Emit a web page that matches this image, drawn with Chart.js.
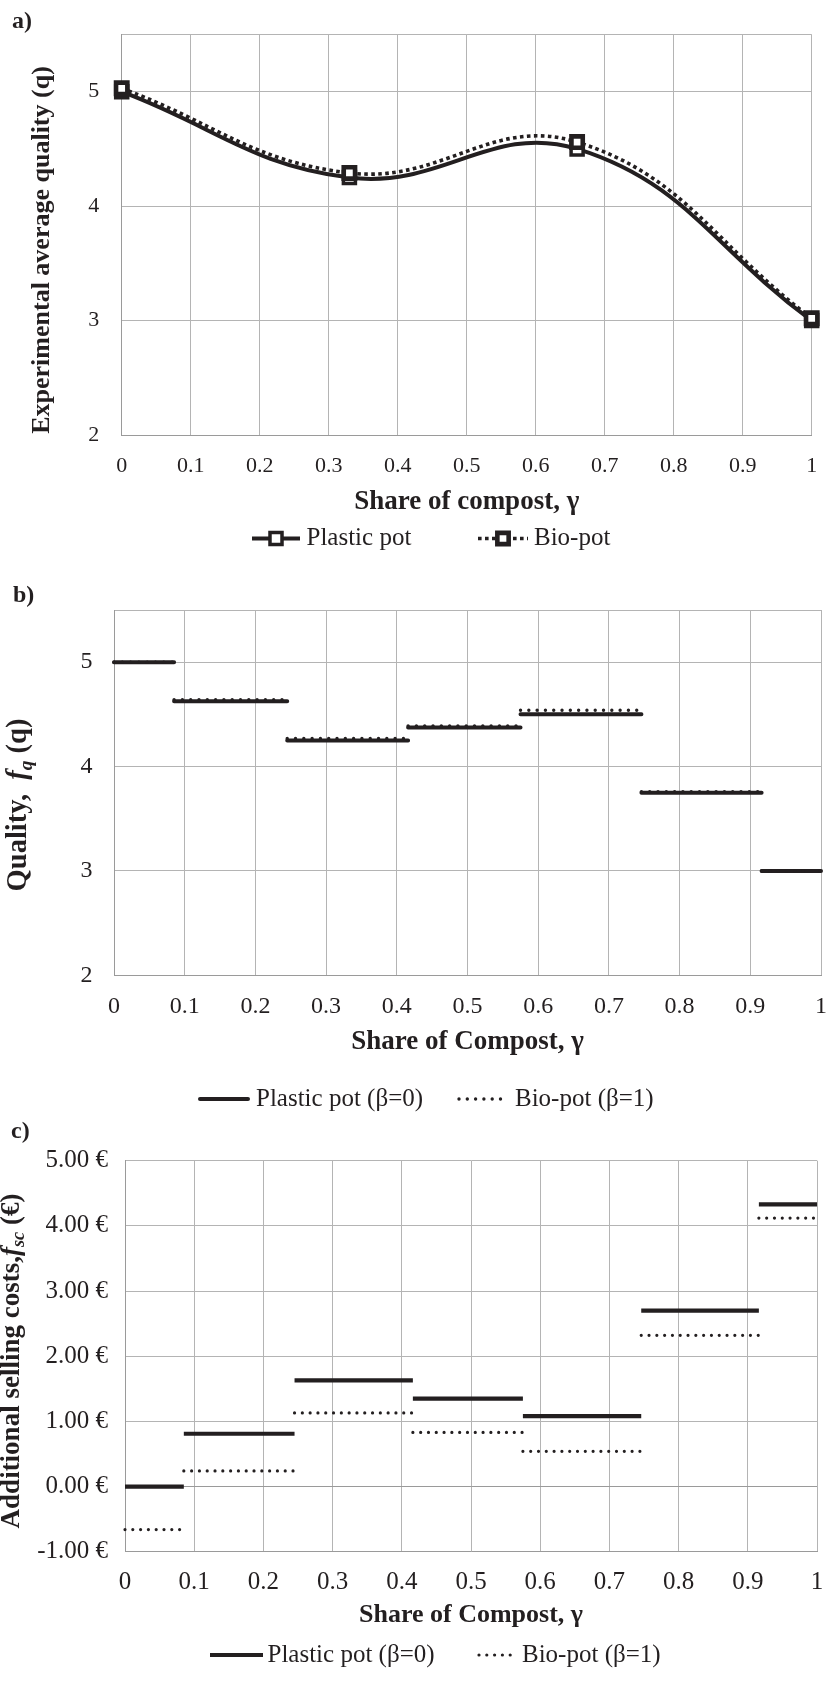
<!DOCTYPE html>
<html>
<head>
<meta charset="utf-8">
<title>Compost share: quality and selling costs</title>
<script src="https://cdn.jsdelivr.net/npm/chart.js@4.4.1/dist/chart.umd.min.js"></script>
<style>
  html, body { margin: 0; padding: 0; background: #fff; }
  body { position: relative; width: 828px; height: 1686px; overflow: hidden; }
  canvas { position: absolute; left: 0; }
</style>
</head>
<body>
<canvas id="chartA" width="828" height="560" style="top:0px"></canvas>
<canvas id="chartB" width="828" height="560" style="top:560px"></canvas>
<canvas id="chartC" width="828" height="576" style="top:1110px"></canvas>
<script>
// ---- data -------------------------------------------------------------
// a) experimental average quality at the tested compost shares
const shareTested = [0, 0.33, 0.66, 1];
const qualityPlastic = [5.0, 4.25, 4.5, 3.0];
const qualityBio = [5.03, 4.29, 4.56, 3.02];

// b), c) piecewise-constant functions over compost-share intervals
const stepBreaks = [0, 0.085, 0.245, 0.416, 0.575, 0.746, 0.916, 1];
const fqPlastic = [5, 4.625, 4.25, 4.375, 4.5, 3.75, 3];
const fqBio = [5, 4.64, 4.27, 4.39, 4.54, 3.76, 3];
const fscPlastic = [0, 0.81, 1.63, 1.35, 1.08, 2.70, 4.33];
const fscBio = [-0.66, 0.24, 1.13, 0.83, 0.54, 2.32, 4.12];

// axis ticks
const shareTicks = [0, 0.1, 0.2, 0.3, 0.4, 0.5, 0.6, 0.7, 0.8, 0.9, 1];
const qualityTicks = [2, 3, 4, 5];
const costTicks = [-1, 0, 1, 2, 3, 4, 5];

// ---- styling ----------------------------------------------------------
const FONT = "'Liberation Serif', 'Times New Roman', Times, serif";
const INK = '#231f20';
const GRID = '#b4b4b4';
const AXIS = '#9a9a9a';

Chart.defaults.font.family = FONT;
Chart.defaults.color = INK;

// horizontal segments, separated by gaps so no risers are drawn
function stepPoints(breaks, values) {
  const pts = [];
  values.forEach((v, i) => {
    pts.push({ x: breaks[i], y: v }, { x: breaks[i + 1], y: v });
    if (i < values.length - 1) pts.push({ x: breaks[i + 1], y: null });
  });
  return pts;
}

// rotated axis title built from plain / italic / subscript runs
function drawRich(ctx, t) {
  const s = t.size;
  const parts = t.parts.map(p => {
    const size = p.sub ? s * 0.68 : s;
    const font = `${p.italic ? 'italic ' : ''}bold ${size}px ${FONT}`;
    ctx.font = font;
    return { text: p.text, font, w: ctx.measureText(p.text).width, dy: p.sub ? s * 0.28 : 0 };
  });
  const total = parts.reduce((a, p) => a + p.w, 0);
  ctx.save();
  ctx.translate(t.x, t.y);
  ctx.rotate(-Math.PI / 2);
  ctx.fillStyle = INK;
  ctx.textBaseline = 'middle';
  ctx.textAlign = 'left';
  let x = -total / 2;
  parts.forEach(p => {
    ctx.font = p.font;
    ctx.fillText(p.text, x, p.dy);
    x += p.w;
  });
  ctx.restore();
}

// panel letter, rotated y-axis title and the legend row
const decorations = {
  id: 'decorations',
  afterDraw(chart, args, opts) {
    const ctx = chart.ctx;
    ctx.save();
    ctx.fillStyle = INK;
    ctx.textBaseline = 'middle';
    ctx.textAlign = 'left';
    ctx.font = `bold ${opts.panel.size}px ${FONT}`;
    ctx.fillText(opts.panel.text, opts.panel.x, opts.panel.y);

    drawRich(ctx, opts.yTitle);

    const lg = opts.legend;
    lg.items.forEach(it => {
      const ds = chart.data.datasets[it.dataset];
      ctx.save();
      ctx.strokeStyle = ds.borderColor;
      ctx.lineWidth = ds.borderWidth;
      ctx.lineCap = ds.borderCapStyle || 'butt';
      ctx.setLineDash(ds.borderDash || []);
      ctx.beginPath();
      ctx.moveTo(it.x0, lg.y);
      ctx.lineTo(it.x1, lg.y);
      ctx.stroke();
      ctx.restore();
      if (it.marker !== undefined) {
        ctx.save();
        ctx.setLineDash([]);
        ctx.lineWidth = ds.pointBorderWidth;
        ctx.strokeStyle = ds.pointBorderColor;
        ctx.fillStyle = ds.pointBackgroundColor;
        Chart.helpers.drawPoint(ctx, { pointStyle: 'rect', radius: ds.pointRadius, borderWidth: ds.pointBorderWidth, rotation: 0 }, it.marker, lg.y);
        ctx.restore();
      }
      ctx.fillStyle = INK;
      ctx.font = `${lg.size}px ${FONT}`;
      ctx.textBaseline = 'middle';
      ctx.fillText(ds.label, it.textX, lg.y);
    });
    ctx.restore();
  }
};

// fixed-size axes: the plot area is set by layout padding and these sizes,
// without extra room reserved for overhanging edge labels
function shareAxis(o) {
  return {
    type: 'linear', min: 0, max: 1,
    afterBuildTicks: s => { s.ticks = shareTicks.map(v => ({ value: v })); },
    afterFit: s => { s.height = o.height; s.paddingLeft = 0; s.paddingRight = 0; },
    ticks: { autoSkip: false, maxRotation: 0, padding: o.pad, color: INK, font: { size: o.tick }, callback: v => String(v) },
    grid: { color: GRID, lineWidth: 1, drawTicks: false },
    border: { color: AXIS, width: 1 },
    title: { display: true, text: o.title, color: INK, font: { size: o.titleSize, weight: 'bold' }, padding: { top: 0, bottom: o.titlePad } }
  };
}

function valueAxis(o) {
  return {
    type: 'linear', min: o.min, max: o.max,
    afterBuildTicks: s => { s.ticks = o.ticks.concat(o.ticks.includes(o.max) ? [] : [o.max]).map(v => ({ value: v })); },
    afterFit: s => { s.width = o.width; s.paddingTop = 0; s.paddingBottom = 0; },
    ticks: { padding: o.pad, color: INK, font: { size: o.tick }, callback: v => (o.ticks.includes(v) ? o.format(v) : '') },
    grid: { color: o.gridColor || GRID, lineWidth: 1, drawTicks: false },
    border: { color: AXIS, width: 1 }
  };
}

const common = {
  responsive: false, animation: false, devicePixelRatio: 1,
  events: []
};

// ---- a) experimental average quality ---------------------------------
new Chart(document.getElementById('chartA'), {
  type: 'line',
  data: {
    datasets: [
      {
        label: 'Plastic pot',
        data: shareTested.map((x, i) => ({ x, y: qualityPlastic[i] })),
        borderColor: INK, borderWidth: 4, tension: 0.42,
        pointStyle: 'rect', pointRadius: 8.5, pointBorderWidth: 3.5,
        pointBackgroundColor: '#fff', pointBorderColor: INK,
        clip: false, order: 2
      },
      {
        label: 'Bio-pot',
        data: shareTested.map((x, i) => ({ x, y: qualityBio[i] })),
        borderColor: INK, borderWidth: 3.6, borderDash: [3.6, 3.4], tension: 0.42,
        pointStyle: 'rect', pointRadius: 8, pointBorderWidth: 4.6,
        pointBackgroundColor: '#fff', pointBorderColor: INK,
        clip: false, order: 1
      }
    ]
  },
  options: Object.assign({}, common, {
    layout: { padding: { left: 0, top: 34.5, right: 16.3, bottom: 0 } },
    plugins: {
      legend: { display: false }, tooltip: { enabled: false },
      decorations: {
        panel: { text: 'a)', x: 12, y: 21.5, size: 24 },
        yTitle: { x: 42, y: 250, size: 26, parts: [{ text: 'Experimental average quality (q)' }] },
        legend: { y: 538.5, size: 25, items: [
          { dataset: 0, x0: 252, x1: 300, marker: 276, textX: 306.5 },
          { dataset: 1, x0: 478, x1: 528, marker: 503, textX: 534 }
        ] }
      }
    },
    scales: {
      x: shareAxis({ height: 125, pad: 17.8, tick: 22, title: 'Share of compost, γ', titleSize: 27, titlePad: 42 }),
      y: valueAxis({ min: 2, max: 5.5, ticks: qualityTicks, width: 121.7, pad: 22.5, tick: 22, format: v => String(v) })
    }
  }),
  plugins: [decorations]
});

// ---- b) quality function ----------------------------------------------
new Chart(document.getElementById('chartB'), {
  type: 'line',
  data: {
    datasets: [
      {
        label: 'Plastic pot (β=0)',
        data: stepPoints(stepBreaks, fqPlastic),
        borderColor: INK, borderWidth: 4, borderCapStyle: 'round',
        pointRadius: 0, spanGaps: false, clip: false, order: 2
      },
      {
        label: 'Bio-pot (β=1)',
        data: stepPoints(stepBreaks, fqBio),
        borderColor: INK, borderWidth: 3.4, borderDash: [0, 8.3], borderCapStyle: 'round',
        pointRadius: 0, spanGaps: false, clip: false, order: 1
      }
    ]
  },
  options: Object.assign({}, common, {
    layout: { padding: { left: 0, top: 50, right: 7, bottom: 0 } },
    plugins: {
      legend: { display: false }, tooltip: { enabled: false },
      decorations: {
        panel: { text: 'b)', x: 13, y: 35.5, size: 24 },
        yTitle: { x: 19, y: 245, size: 28.5, parts: [
          { text: 'Quality,  ' }, { text: 'f', italic: true }, { text: 'q', italic: true, sub: true }, { text: ' (q)' }
        ] },
        legend: { y: 539, size: 25, items: [
          { dataset: 0, x0: 200, x1: 248, textX: 256 },
          { dataset: 1, x0: 459, x1: 504, textX: 515 }
        ] }
      }
    },
    scales: {
      x: shareAxis({ height: 144.7, pad: 16.7, tick: 24, title: 'Share of Compost, γ', titleSize: 27, titlePad: 61.8 }),
      y: valueAxis({ min: 2, max: 5.5, ticks: qualityTicks, width: 114, pad: 21.6, tick: 24, format: v => String(v) })
    }
  }),
  plugins: [decorations]
});

// ---- c) additional selling costs --------------------------------------
new Chart(document.getElementById('chartC'), {
  type: 'line',
  data: {
    datasets: [
      {
        label: 'Plastic pot (β=0)',
        data: stepPoints(stepBreaks, fscPlastic),
        borderColor: INK, borderWidth: 4.2, borderCapStyle: 'butt',
        pointRadius: 0, spanGaps: false, clip: false, order: 2
      },
      {
        label: 'Bio-pot (β=1)',
        data: stepPoints(stepBreaks, fscBio),
        borderColor: INK, borderWidth: 3.2, borderDash: [0, 7.8], borderCapStyle: 'round',
        pointRadius: 0, spanGaps: false, clip: false, order: 1
      }
    ]
  },
  options: Object.assign({}, common, {
    layout: { padding: { left: 0, top: 50.7, right: 11, bottom: 0 } },
    plugins: {
      legend: { display: false }, tooltip: { enabled: false },
      decorations: {
        panel: { text: 'c)', x: 11, y: 22, size: 24 },
        yTitle: { x: 12, y: 251, size: 27, parts: [
          { text: 'Additional selling costs,' }, { text: 'f', italic: true }, { text: 'sc', italic: true, sub: true }, { text: ' (€)' }
        ] },
        legend: { y: 545, size: 25, items: [
          { dataset: 0, x0: 210, x1: 263, textX: 267.5 },
          { dataset: 1, x0: 479, x1: 515, textX: 522 }
        ] }
      }
    },
    scales: {
      x: shareAxis({ height: 134.3, pad: 16, tick: 25, title: 'Share of Compost, γ', titleSize: 26, titlePad: 55.4 }),
      y: valueAxis({
        min: -1, max: 5, ticks: costTicks, width: 125, pad: 17, tick: 25,
        format: v => v.toFixed(2) + ' €',
        gridColor: c => (c.tick && c.tick.value === 0 ? AXIS : GRID)
      })
    }
  }),
  plugins: [decorations]
});
</script>
</body>
</html>
